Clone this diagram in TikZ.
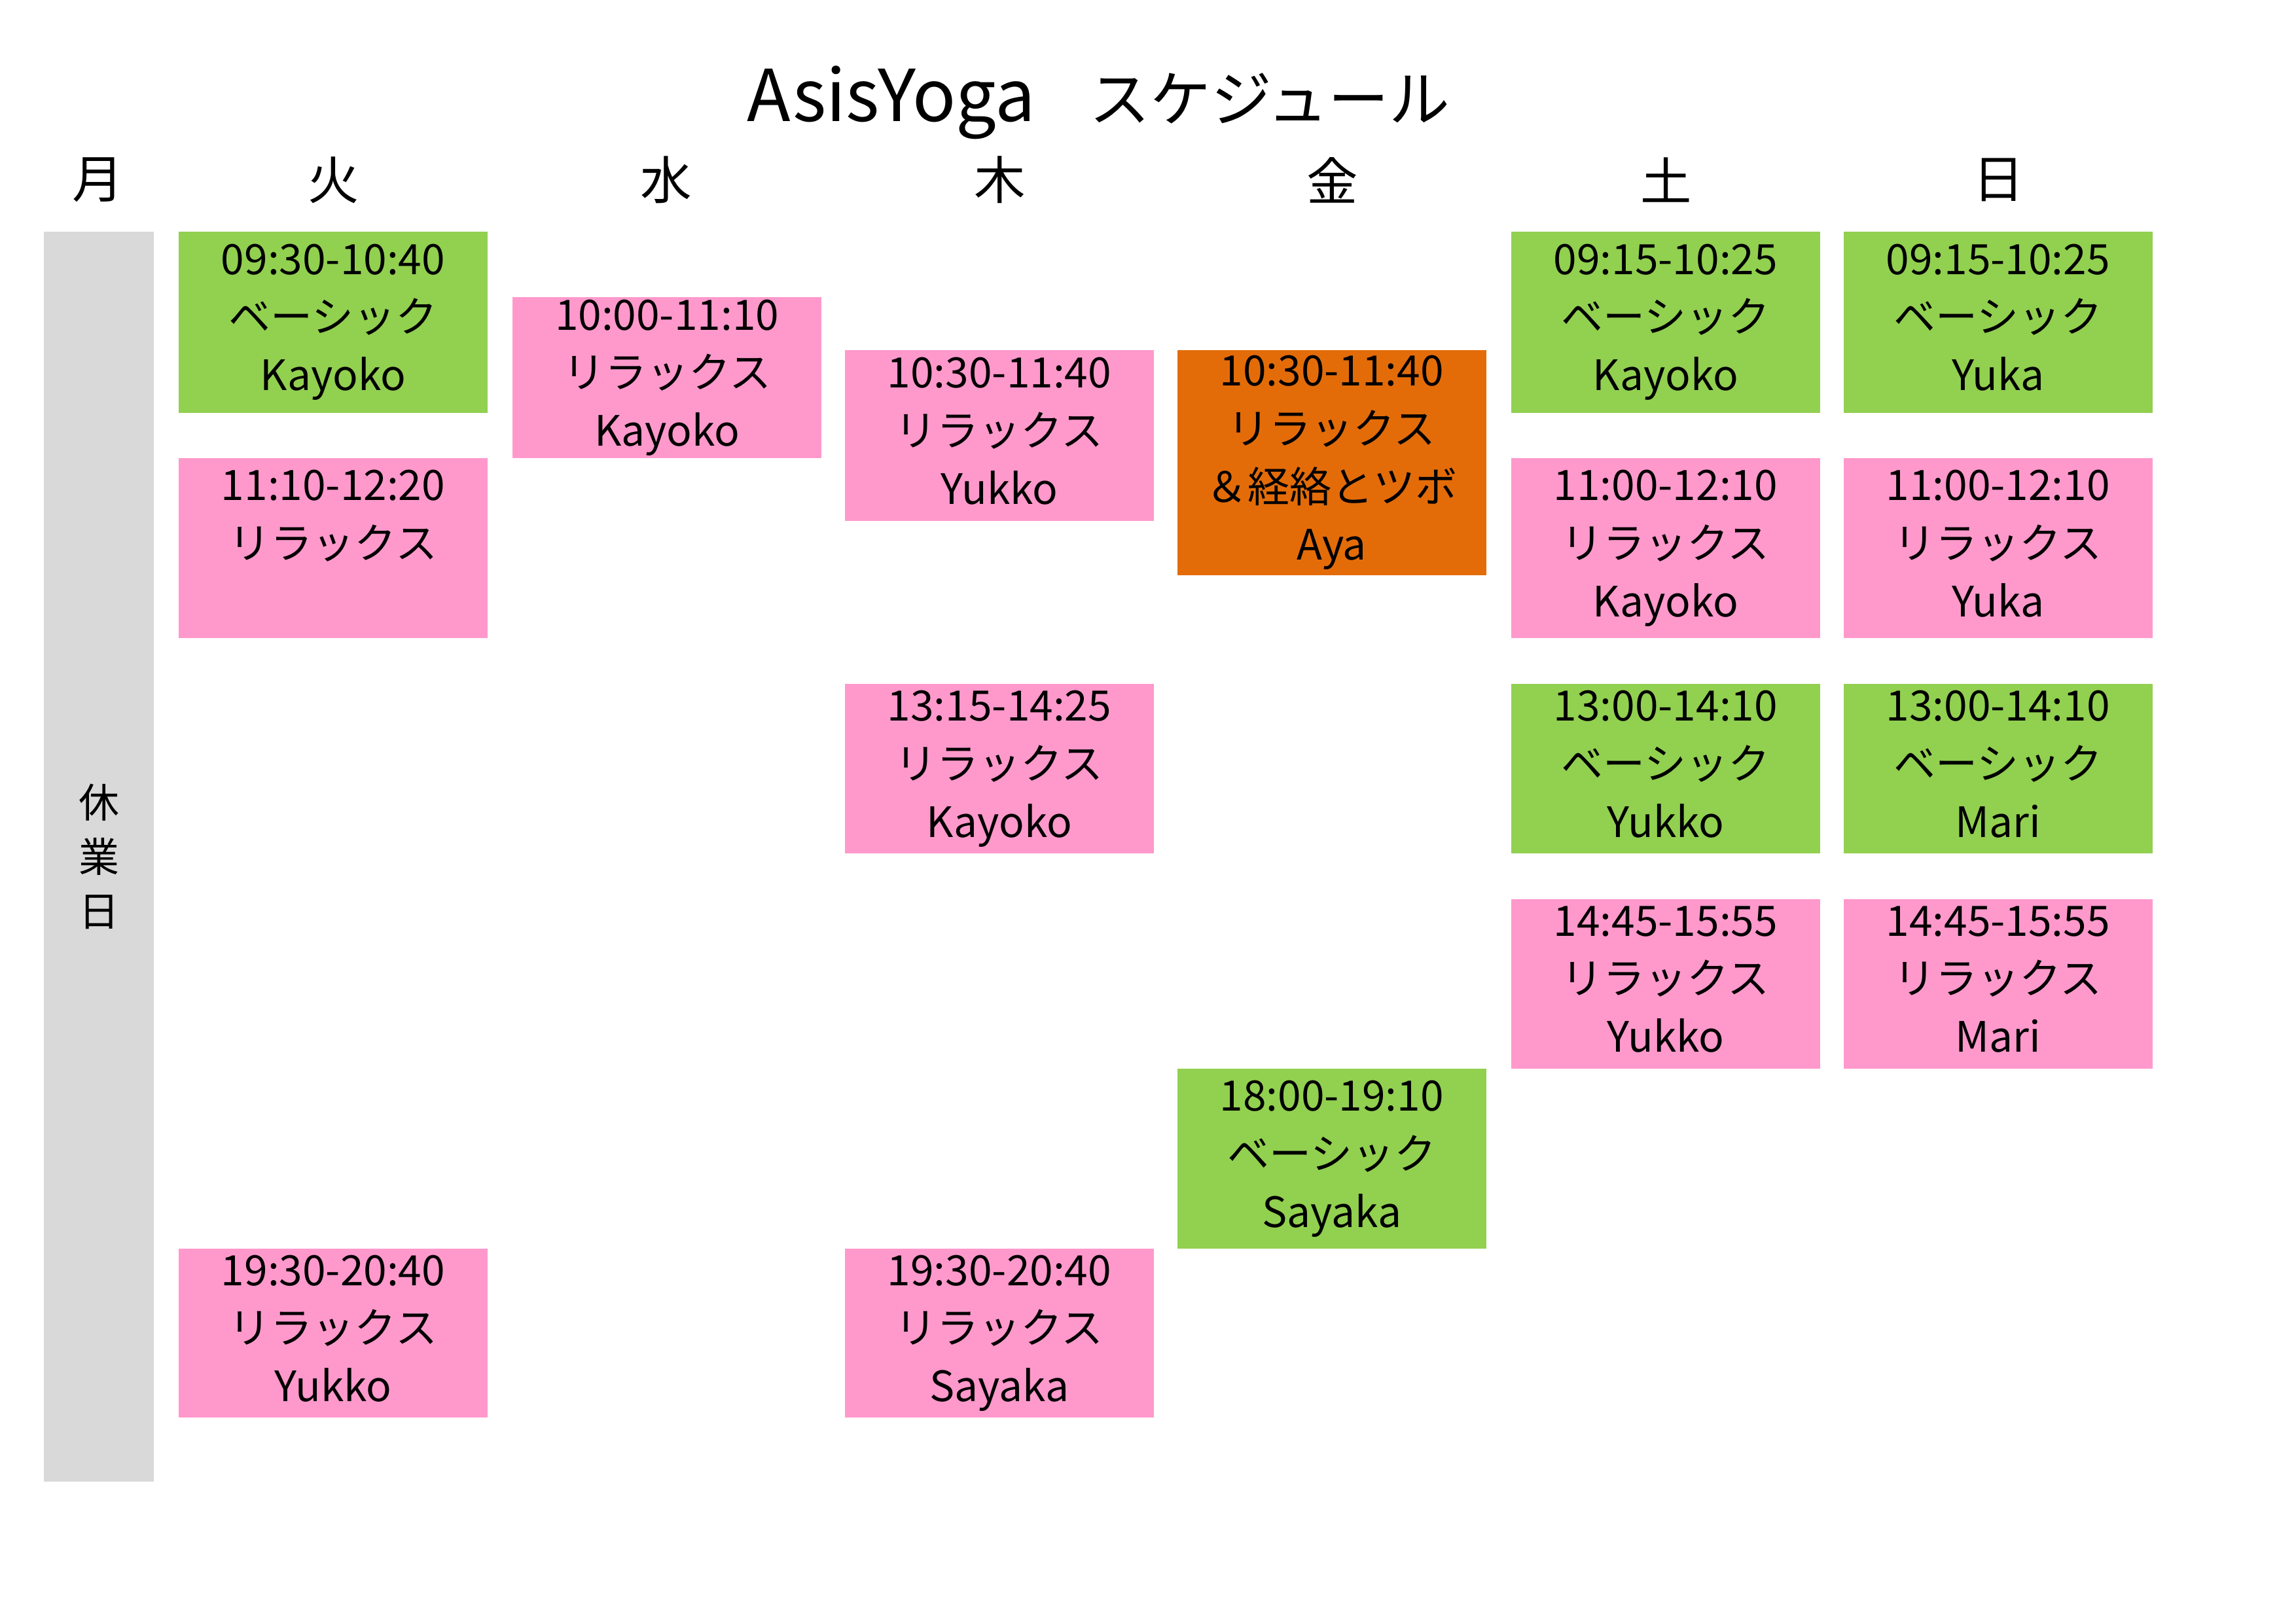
\documentclass[tikz,border=0pt]{standalone}
\usepackage{fontspec}
\setmainfont{Noto Sans CJK JP}
\definecolor{cvert}{RGB}{146,208,80}
\definecolor{crose}{RGB}{255,153,204}
\definecolor{corange}{RGB}{227,108,9}
\definecolor{cgris}{RGB}{217,217,217}
\usetikzlibrary{positioning}

\begin{document}
\begin{tikzpicture}[x=0.019038cm, y=-0.019038cm]
  \tikzstyle{slot}=[rectangle, minimum width=4.017cm, inner sep=0pt, align=center, text=black,
                    font=\fontsize{15.5}{21.5}\selectfont,
                    execute at begin node={\rule{0pt}{17pt}}, execute at end node={\vphantom{Ky}}]
  \tikzstyle{day}=[font=\fontsize{19}{23}\selectfont]
  \useasboundingbox (0,0) rectangle (1568,1108.5);

  \node[anchor=base west, inner sep=0pt] (TITLE) at (510,83)
    {\fontsize{26.5}{30}\selectfont AsisYoga\hspace{0.7cm}\fontsize{22.5}{30}\selectfont スケジュール};

  % jours
  \node[day] (MON) at (67,123)   {月};
  \node[day] (TUE) at (228,123)  {火};
  \node[day] (WED) at (455,123)  {水};
  \node[day] (THU) at (683,123)  {木};
  \node[day] (FRI) at (910,123)  {金};
  \node[day] (SAT) at (1138,123) {土};
  \node[day] (SUN) at (1365,123) {日};

  \node[rectangle, fill=cgris, minimum width=1.428cm, minimum height=16.26cm, inner sep=0pt,
        align=center, font=\fontsize{15}{20}\selectfont] (M0) at (67.5,585) {休\\業\\日};

  % cours
  \node[slot, fill=cvert, minimum height=2.361cm] (T1) at (227.5,220)   {09:30-10:40\\ベーシック\\Kayoko};
  \node[slot, fill=crose, minimum height=2.342cm] (T2) at (227.5,374.5) {11:10-12:20\\リラックス\\\mbox{}};
  \node[slot, fill=crose, minimum height=2.189cm] (T3) at (227.5,910.5) {19:30-20:40\\リラックス\\Yukko};

  \node[slot, fill=crose, minimum height=2.094cm] (W1) at (455.5,258)   {10:00-11:10\\リラックス\\Kayoko};

  \node[slot, fill=crose, minimum height=2.227cm] (H1) at (682.5,297.5) {10:30-11:40\\リラックス\\Yukko};
  \node[slot, fill=crose, minimum height=2.208cm] (H2) at (682.5,525)   {13:15-14:25\\リラックス\\Kayoko};
  \node[slot, fill=crose, minimum height=2.189cm] (H3) at (682.5,910.5) {19:30-20:40\\リラックス\\Sayaka};

  \node[slot, fill=corange, minimum height=2.932cm] (F1) at (909.5,316) {10:30-11:40\\リラックス\\＆経絡とツボ\\Aya};
  \node[slot, fill=cvert, minimum height=2.342cm] (F2) at (909.5,791.5) {18:00-19:10\\ベーシック\\Sayaka};

  \node[slot, fill=cvert, minimum height=2.361cm] (S1) at (1137.5,220)   {09:15-10:25\\ベーシック\\Kayoko};
  \node[slot, fill=crose, minimum height=2.342cm] (S2) at (1137.5,374.5) {11:00-12:10\\リラックス\\Kayoko};
  \node[slot, fill=cvert, minimum height=2.208cm] (S3) at (1137.5,525)   {13:00-14:10\\ベーシック\\Yukko};
  \node[slot, fill=crose, minimum height=2.208cm] (S4) at (1137.5,672)   {14:45-15:55\\リラックス\\Yukko};

  \node[slot, fill=cvert, minimum height=2.361cm] (U1) at (1364.5,220)   {09:15-10:25\\ベーシック\\Yuka};
  \node[slot, fill=crose, minimum height=2.342cm] (U2) at (1364.5,374.5) {11:00-12:10\\リラックス\\Yuka};
  \node[slot, fill=cvert, minimum height=2.208cm] (U3) at (1364.5,525)   {13:00-14:10\\ベーシック\\Mari};
  \node[slot, fill=crose, minimum height=2.208cm] (U4) at (1364.5,672)   {14:45-15:55\\リラックス\\Mari};
\end{tikzpicture}
\end{document}
